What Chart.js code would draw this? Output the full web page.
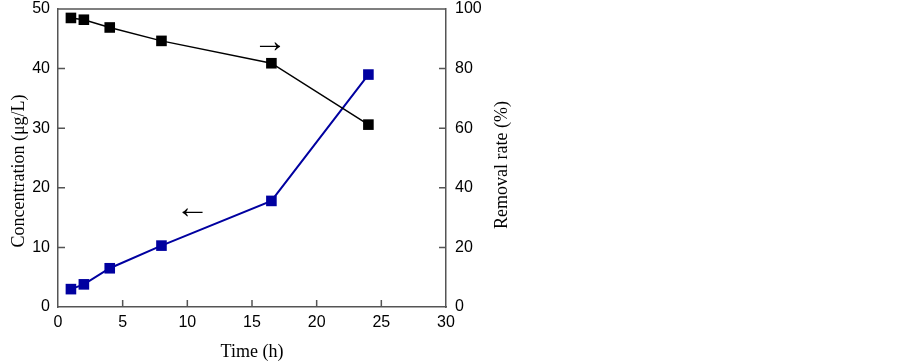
<!DOCTYPE html>
<html>
<head>
<meta charset="utf-8">
<script src="https://cdn.jsdelivr.net/npm/chart.js@4"></script>
<style>
  html, body { margin: 0; padding: 0; background: #fff; }
  #wrap { width: 902px; height: 363px; }
</style>
</head>
<body>
<div id="wrap"><canvas id="chart" width="902" height="363"></canvas></div>
<script>
// Time (h) and both series
const times = [1, 2, 4, 8, 16.5, 24];
const concentration = [3.0, 3.8, 6.5, 10.3, 17.8, 39.0];   // left axis, µg/L
const removalRate = [97.0, 96.4, 93.8, 89.3, 81.8, 61.2];  // right axis, %

// arrow hints, placed in left-axis data units
const arrowX = [16.4, 10.4];
const arrowY = [44.3, 16.5];
const arrowText = ['\u2192', '\u2190'];

const tickFont = { family: 'Liberation Sans, Arial, sans-serif', size: 16 };
const titleFont = { family: 'Liberation Serif, Times New Roman, serif', size: 18 };
const axisColor = '#555';

function toPoints(xs, ys) {
  return xs.map((x, i) => ({ x: x, y: ys[i] }));
}

function vTitle(ctx, text, x, y) {
  ctx.save();
  ctx.fillStyle = '#000';
  ctx.font = titleFont.size + 'px ' + titleFont.family;
  ctx.textAlign = 'center';
  ctx.textBaseline = 'middle';
  ctx.translate(x, y);
  ctx.rotate(-Math.PI / 2);
  ctx.fillText(text, 0, 0);
  ctx.restore();
}

// ticks pointing into the plot, top border, side titles, arrows
const extras = {
  id: 'extras',
  afterDraw(chart) {
    const ctx = chart.ctx;
    const a = chart.chartArea;
    const sx = chart.scales.x, sy = chart.scales.y, sy2 = chart.scales.y2;
    const len = 7;
    ctx.save();
    ctx.strokeStyle = axisColor;
    ctx.lineWidth = 1.5;
    ctx.beginPath();
    sx.ticks.forEach(t => {
      if (t.value <= sx.min || t.value >= sx.max) return;
      const px = sx.getPixelForValue(t.value);
      ctx.moveTo(px, a.bottom);
      ctx.lineTo(px, a.bottom - len);
    });
    sy.ticks.forEach(t => {
      if (t.value <= sy.min || t.value >= sy.max) return;
      const py = sy.getPixelForValue(t.value);
      ctx.moveTo(a.left, py);
      ctx.lineTo(a.left + len, py);
    });
    sy2.ticks.forEach(t => {
      if (t.value <= sy2.min || t.value >= sy2.max) return;
      const py = sy2.getPixelForValue(t.value);
      ctx.moveTo(a.right, py);
      ctx.lineTo(a.right - len, py);
    });
    ctx.moveTo(a.left, a.top);
    ctx.lineTo(a.right, a.top);
    ctx.stroke();
    ctx.restore();

    // both side titles read bottom to top, sitting a little below the middle
    const mid = (a.top + a.bottom) / 2;
    vTitle(ctx, 'Concentration (\u03bcg/L)', sy.left + 19, mid + 13);
    vTitle(ctx, 'Removal rate (%)', sy2.right - 10, mid + 7);

    ctx.save();
    ctx.fillStyle = '#000';
    ctx.font = '34px Liberation Sans, sans-serif';
    ctx.textAlign = 'center';
    ctx.textBaseline = 'middle';
    for (let i = 0; i < arrowText.length; i++) {
      ctx.fillText(arrowText[i], sx.getPixelForValue(arrowX[i]), sy.getPixelForValue(arrowY[i]));
    }
    ctx.restore();
  }
};

function noPad(s) {
  s.paddingTop = 0;
  s.paddingBottom = 0;
  s.paddingLeft = 0;
  s.paddingRight = 0;
}

new Chart(document.getElementById('chart'), {
  type: 'line',
  data: {
    datasets: [
      {
        label: 'Removal rate',
        data: toPoints(times, removalRate),
        yAxisID: 'y2',
        borderColor: '#000',
        backgroundColor: '#000',
        borderWidth: 1.5,
        pointStyle: 'rect',
        pointRadius: 7.5,
        pointBorderWidth: 0,
        tension: 0
      },
      {
        label: 'Concentration',
        data: toPoints(times, concentration),
        yAxisID: 'y',
        borderColor: '#0000a0',
        backgroundColor: '#0000a0',
        borderWidth: 2,
        pointStyle: 'rect',
        pointRadius: 7.5,
        pointBorderWidth: 0,
        tension: 0
      }
    ]
  },
  options: {
    responsive: false,
    animation: false,
    layout: { padding: { top: 9, right: 390, left: 0, bottom: 0 } },
    plugins: { legend: { display: false }, tooltip: { enabled: false } },
    scales: {
      x: {
        type: 'linear',
        position: 'bottom',
        min: 0,
        max: 30,
        ticks: { stepSize: 5, font: tickFont, color: '#000', padding: 6 },
        grid: { display: false, drawTicks: false },
        border: { display: true, color: axisColor, width: 1.5 },
        title: { display: true, text: 'Time (h)', font: titleFont, color: '#000', padding: { top: 0, bottom: 0 } },
        afterFit: s => { s.height = 56; noPad(s); }
      },
      y: {
        position: 'left',
        min: 0,
        max: 50,
        ticks: { stepSize: 10, font: tickFont, color: '#000', padding: 8 },
        grid: { display: false, drawTicks: false },
        border: { display: true, color: axisColor, width: 1.5 },
        afterFit: s => { s.width = 58; noPad(s); }
      },
      y2: {
        position: 'right',
        min: 0,
        max: 100,
        ticks: { stepSize: 20, font: tickFont, color: '#000', padding: 9 },
        grid: { display: false, drawTicks: false },
        border: { display: true, color: axisColor, width: 1.5 },
        afterFit: s => { s.width = 66; noPad(s); }
      }
    }
  },
  plugins: [extras]
});
</script>
</body>
</html>
